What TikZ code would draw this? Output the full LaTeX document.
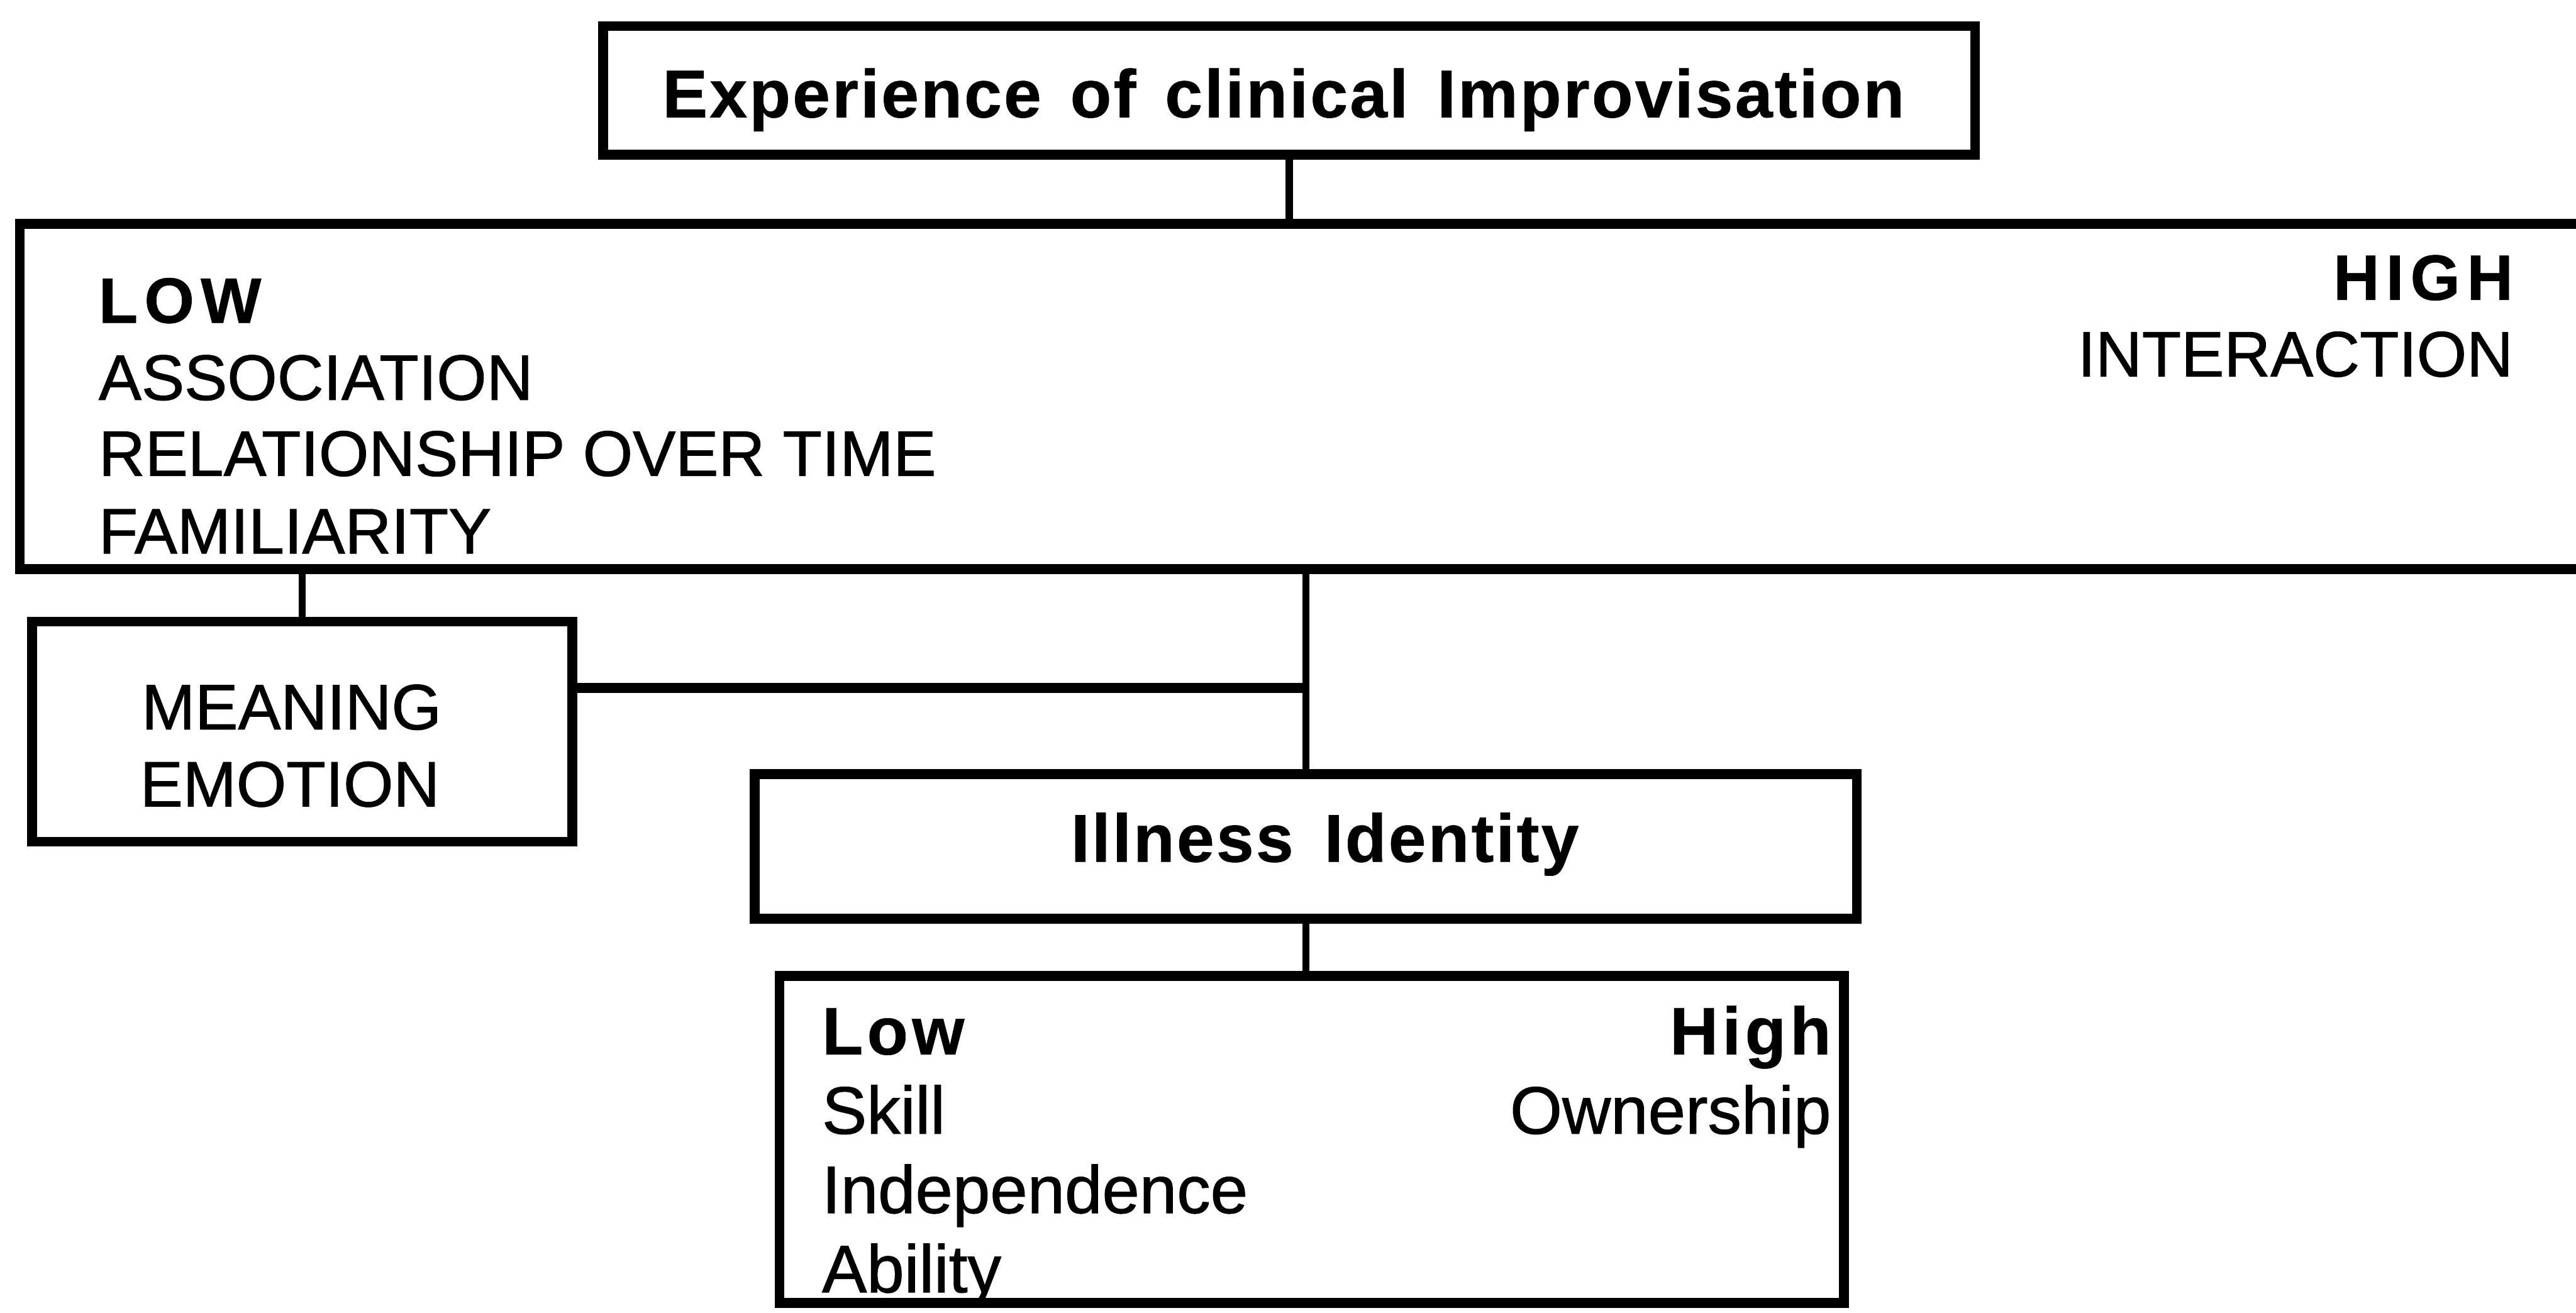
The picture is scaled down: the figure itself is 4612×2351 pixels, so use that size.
\documentclass[tikz,border=0pt]{standalone}
\usepackage{fontspec}
\setmainfont{Liberation Sans}
\tikzset{
  box/.style={draw, line width=5pt, inner sep=0pt, rectangle},
  conn/.style={line width=3.8pt},
  lbl/.style={inner sep=0pt, font=\fontsize{32.7}{39}\selectfont\addfontfeature{FakeBold=1}},
  lblb/.style={inner sep=0pt, font=\fontsize{34.2}{41}\selectfont\addfontfeature{FakeBold=1}},
  headA/.style={inner sep=0pt, font=\fontsize{34.4}{41}\selectfont\bfseries\addfontfeature{LetterSpace=3,FakeBold=0.6}},
  tagA/.style={inner sep=0pt, font=\fontsize{32.7}{39}\selectfont\bfseries\addfontfeature{LetterSpace=10,FakeBold=0.6}},
  tagB/.style={inner sep=0pt, font=\fontsize{34.2}{41}\selectfont\bfseries\addfontfeature{LetterSpace=6,FakeBold=0.6}},
}
\begin{document}
\begin{tikzpicture}[x=0.01cm,y=-0.01cm]
\useasboundingbox[fill=white] (0,0) rectangle (4612,2351);
% boxes
\node[box, minimum width=24.55cm, minimum height=2.30cm] (top) at (2308,162) {};
\node[box, minimum width=46.15cm, minimum height=6.18cm] (big) at (2344.5,710) {};
\node[box, minimum width=9.66cm, minimum height=3.94cm] (meaning) at (541,1310) {};
\node[box, minimum width=19.72cm, minimum height=2.59cm] (illness) at (2338,1515.5) {};
\node[box, minimum width=19.05cm, minimum height=5.85cm] (bottom) at (2348.5,2040) {};
% texts
\node[headA, anchor=base] (ttop) at (2298,210) {Experience\hspace{0.12em} of\hspace{0.12em} clinical\hspace{0.12em} Improvisation};
\node[tagA, anchor=base west] (low) at (176,578) {LOW};
\node[lbl, anchor=base west] (assoc) at (176,716) {ASSOCIATION};
\node[lbl, anchor=base west] (rel) at (176,852) {RELATIONSHIP OVER TIME};
\node[lbl, anchor=base west] (fam) at (176,991) {FAMILIARITY};
\node[tagA, anchor=base east] (high) at (4500,537) {HIGH};
\node[lbl, anchor=base east] (inter) at (4500,674) {INTERACTION};
\node[lbl, anchor=base] (mean) at (522,1306) {MEANING};
\node[lbl, anchor=base] (emo) at (519,1444) {EMOTION};
\node[headA, anchor=base] (till) at (2372,1543) {Illness\hspace{0.15em} Identity};
\node[tagB, anchor=base west] (blow) at (1471,1888) {Low};
\node[lblb, anchor=base west] (skill) at (1471,2030) {Skill};
\node[lblb, anchor=base west] (indep) at (1471,2172) {Independence};
\node[lblb, anchor=base west] (abil) at (1471,2314) {Ability};
\node[tagB, anchor=base east] (bhigh) at (3279,1888) {High};
\node[lblb, anchor=base east] (own) at (3279,2030) {Ownership};
% connectors
\draw[conn] (top.south) -- (top.south |- big.north);
\draw[conn] (meaning.north) -- (meaning.north |- big.south);
\draw[conn] (illness.north) -- (illness.north |- big.south);
\coordinate (j) at (2338,1232);
\draw[conn, line width=5pt] (meaning.east |- j) -- (j);
\draw[conn] (illness.south) -- (illness.south |- bottom.north);
\end{tikzpicture}
\end{document}
